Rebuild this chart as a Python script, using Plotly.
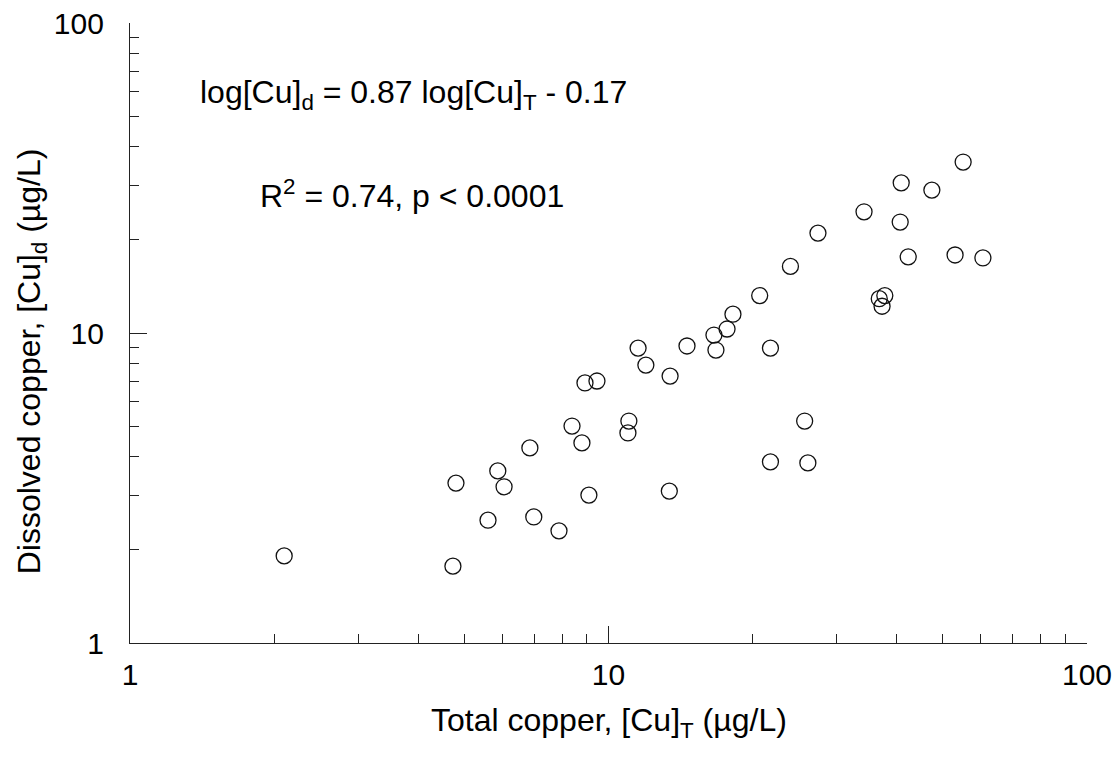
import plotly.graph_objects as go

# Total copper [Cu]_T (µg/L)
total_cu = [2.10, 4.73, 4.80, 5.60, 5.87, 6.05, 6.85, 6.98, 7.88, 8.39, 8.80,
            8.93, 9.10, 9.46, 10.98, 11.03, 11.53, 11.97, 13.45, 13.40, 14.59,
            16.61, 16.77, 17.69, 18.20, 20.70, 21.80, 21.80, 24.00, 25.70, 26.10,
            27.40, 34.20, 36.80, 37.30, 37.80, 40.70, 40.90, 42.30, 47.40, 53.00,
            55.10, 60.60]
# Dissolved copper [Cu]_d (µg/L)
dissolved_cu = [1.91, 1.77, 3.28, 2.49, 3.59, 3.19, 4.26, 2.55, 2.30, 5.01, 4.42,
                6.90, 3.00, 7.00, 4.76, 5.20, 8.94, 7.88, 7.26, 3.09, 9.08,
                9.85, 8.81, 10.30, 11.50, 13.20, 8.94, 3.84, 16.40, 5.20, 3.81,
                21.00, 24.60, 12.90, 12.20, 13.20, 22.80, 30.50, 17.60, 28.90, 17.85,
                35.60, 17.46]

major_ticks = [1, 10, 100]
tick_labels = ["1", "10", "100"]
minor_ticks = [2, 3, 4, 5, 6, 7, 8, 9, 20, 30, 40, 50, 60, 70, 80, 90]

x_title = "Total copper, [Cu]<sub>T</sub> (µg/L)"
y_title = "Dissolved copper, [Cu]<sub>d</sub> (µg/L)"
eq_text = "log[Cu]<sub>d</sub> = 0.87 log[Cu]<sub>T</sub> - 0.17"
r2_text = "R<sup>2</sup> = 0.74, p < 0.0001"

FONT = "Arial, Liberation Sans, sans-serif"

fig = go.Figure()
fig.add_trace(go.Scatter(
    x=total_cu, y=dissolved_cu, mode="markers",
    marker=dict(symbol="circle-open", size=16, color="#111111",
                line=dict(width=1.3, color="#111111")),
    showlegend=False, cliponaxis=False,
))

axis_common = dict(
    type="log", automargin=False,
    tickvals=major_ticks, ticktext=tick_labels,
    ticks="inside", ticklen=17, tickwidth=1.2, tickcolor="#222222",
    showline=True, linecolor="#222222", linewidth=1.2,
    showgrid=False, zeroline=False, mirror=False,
    tickfont=dict(family=FONT, size=30, color="#000000"),
    minor=dict(tickvals=minor_ticks, ticks="inside", ticklen=9,
               tickwidth=1.2, tickcolor="#222222", showgrid=False),
)

fig.update_xaxes(**axis_common, range=[0, 2], ticklabelstandoff=5)
fig.update_yaxes(**axis_common, range=[0, 2], ticklabelstandoff=19)

title_font = dict(family=FONT, size=32, color="#000000")

fig.add_annotation(
    xref="paper", yref="paper", x=0.5, y=-0.128, xanchor="center", yanchor="middle",
    text=x_title, showarrow=False, font=title_font,
)
fig.add_annotation(
    xref="paper", yref="paper", x=-0.102, y=0.455, xanchor="center", yanchor="middle",
    text=y_title, showarrow=False, font=title_font, textangle=-90,
)
fig.add_annotation(
    xref="paper", yref="paper", x=0.0711, y=0.885, xanchor="left", yanchor="middle",
    text=eq_text, showarrow=False, font=dict(family=FONT, size=32, color="#000000"),
)
fig.add_annotation(
    xref="paper", yref="paper", x=0.1338, y=0.724, xanchor="left", yanchor="middle",
    text=r2_text, showarrow=False, font=dict(family=FONT, size=32, color="#000000"),
)

fig.update_layout(
    width=1120, height=763,
    margin=dict(l=130, r=33, t=23, b=120, autoexpand=False),
    paper_bgcolor="white", plot_bgcolor="white",
)

fig.write_html("out.html")
